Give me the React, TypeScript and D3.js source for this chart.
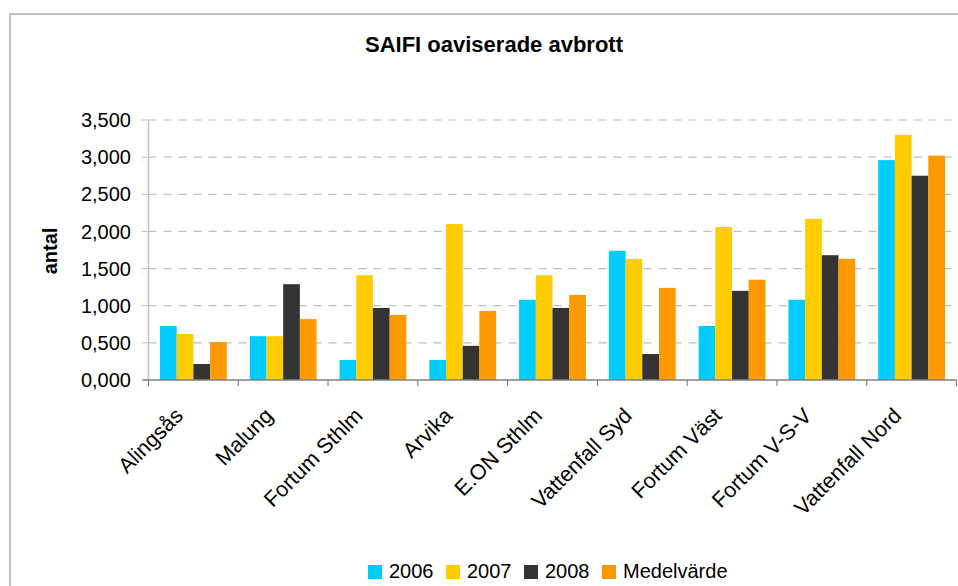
import React from "react";
import * as d3 from "d3";

const categories = ["Alingsås", "Malung", "Fortum Sthlm", "Arvika", "E.ON Sthlm", "Vattenfall Syd", "Fortum Väst", "Fortum V-S-V", "Vattenfall Nord"];
const seriesNames = ["2006", "2007", "2008", "Medelvärde"];
const values2006 = [0.727, 0.59, 0.27, 0.27, 1.08, 1.74, 0.727, 1.08, 2.96];
const values2007 = [0.62, 0.59, 1.41, 2.10, 1.41, 1.63, 2.06, 2.17, 3.30];
const values2008 = [0.215, 1.29, 0.97, 0.46, 0.97, 0.35, 1.20, 1.68, 2.75];
const valuesMedel = [0.51, 0.82, 0.875, 0.93, 1.144, 1.24, 1.35, 1.63, 3.02];
const yTicks = [0, 0.5, 1, 1.5, 2, 2.5, 3, 3.5];
const colors = ["#00CCFF", "#FFCC00", "#333333", "#FF9900"];

const W = 958;
const H = 586;
const FONT = "'Liberation Sans', Arial, sans-serif";

export default function App() {
  const series = [values2006, values2007, values2008, valuesMedel];
  const left = 148.5;
  const right = 956.5;
  const top = 120;
  const bottom = 380;

  const x0 = d3.scaleBand<string>().domain(categories).range([left, right]).paddingInner(0.256).paddingOuter(0.128);
  const x1 = d3.scaleBand<string>().domain(seriesNames).range([0, x0.bandwidth()]);
  const y = d3.scaleLinear().domain([0, 3.5]).range([bottom, top]);
  const step = x0.step();
  const fmt = (v: number) => d3.format(".3f")(v).replace(".", ",");

  const legendItems = [
    { name: "2006", x: 368 },
    { name: "2007", x: 446 },
    { name: "2008", x: 524 },
    { name: "Medelvärde", x: 602 },
  ];

  return (
    <svg width={W} height={H} style={{ position: "absolute", left: 0, top: 0, background: "#fff" }} fontFamily={FONT}>
      <rect x={0} y={0} width={W} height={H} fill="#fff" />
      <rect x={10} y={14} width={1200} height={1200} fill="none" stroke="#c0c0c0" strokeWidth={2} />
      <text x={494} y={52} textAnchor="middle" fontSize={22} fontWeight="bold" fill="#000">SAIFI oaviserade avbrott</text>

      {/* gridlines */}
      {yTicks.filter((t) => t > 0).map((t) => (
        <line key={t} x1={left} x2={right} y1={y(t)} y2={y(t)} stroke="#c0c0c0" strokeWidth={1.2} strokeDasharray="8,7" />
      ))}

      {/* bars */}
      {categories.map((c, i) => (
        <g key={c}>
          {series.map((s, j) => (
            <rect key={j} x={(x0(c) as number) + (x1(seriesNames[j]) as number)} y={y(s[i])} width={x1.bandwidth()} height={bottom - y(s[i])} fill={colors[j]} />
          ))}
        </g>
      ))}

      {/* y axis */}
      <line x1={left} x2={left} y1={top} y2={bottom} stroke="#c0c0c0" strokeWidth={1.5} />
      {yTicks.map((t) => (
        <g key={t}>
          <line x1={left - 7} x2={left} y1={y(t)} y2={y(t)} stroke="#c0c0c0" strokeWidth={1} />
          <text x={131} y={y(t)} dy="0.36em" textAnchor="end" fontSize={20} fill="#000">{fmt(t)}</text>
        </g>
      ))}
      <text transform={`translate(57,251) rotate(-90)`} textAnchor="middle" fontSize={20} fontWeight="bold" fill="#000">antal</text>

      {/* x axis */}
      <line x1={left - 6} x2={right} y1={bottom} y2={bottom} stroke="#808080" strokeWidth={1.5} />
      {d3.range(categories.length + 1).map((k) => (
        <line key={k} x1={left + k * step} x2={left + k * step} y1={bottom} y2={bottom + 6} stroke="#808080" strokeWidth={1.2} />
      ))}
      {categories.map((c) => {
        const cx = (x0(c) as number) + x0.bandwidth() / 2;
        return (
          <text key={c} transform={`translate(${cx - 9},${bottom + 37}) rotate(-45)`} textAnchor="end" fontSize={21.5} fill="#000">{c}</text>
        );
      })}

      {/* legend */}
      {legendItems.map((it, j) => (
        <g key={it.name}>
          <rect x={it.x} y={565} width={14} height={14} fill={colors[j]} />
          <text x={it.x + 21} y={578} fontSize={20} fill="#000">{it.name}</text>
        </g>
      ))}
    </svg>
  );
}
